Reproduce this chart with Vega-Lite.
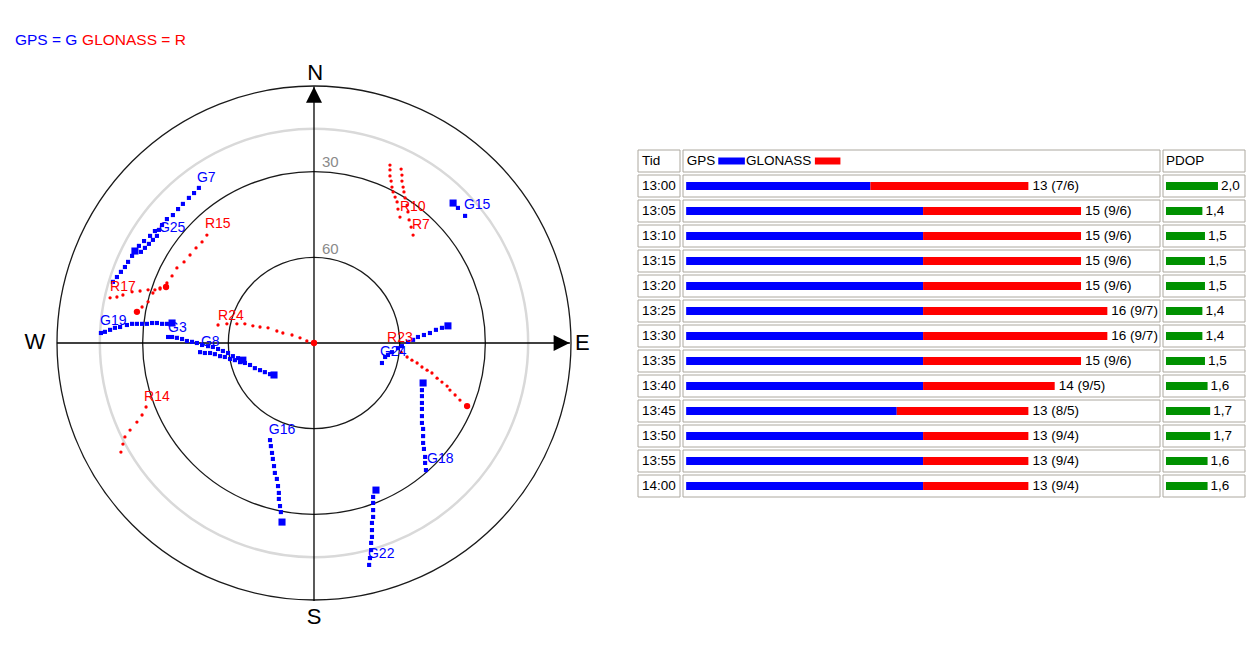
{
  "$schema": "https://vega.github.io/schema/vega-lite/v6.json",
  "background": "#ffffff",
  "padding": {"left": 8, "top": 25, "right": 0, "bottom": 0},
  "bounds": "flush",
  "spacing": 36,
  "config": {"view": {"stroke": null}, "font": "Liberation Sans", "text": {"font": "Liberation Sans"}, "legend": {"disable": true}},
  "datasets": {
    "rings": [{"zd": 90, "x": 0, "y": 0}, {"zd": 75, "x": 0, "y": 0}, {"zd": 60, "x": 0, "y": 0}, {"zd": 30, "x": 0, "y": 0}],
    "axes": [{"x": -90, "x2": 89.6, "y": 0, "y2": 0}, {"x": 0, "x2": 0, "y": 89.8, "y2": -90.3}],
    "compass": [{"t": "N", "x": 0.4, "y": 94.4}, {"t": "E", "x": 94.0, "y": 0}, {"t": "S", "x": 0, "y": -95.9}, {"t": "W", "x": -97.7, "y": 0.4}],
    "elev": [{"t": "30", "x": 2.8, "y": 63.3}, {"t": "60", "x": 2.8, "y": 32.8}],
    "notes": [{"t": "GPS = G", "sys": "GPS", "x": -104.7, "y": 106.1}, {"t": "GLONASS = R", "sys": "GLONASS", "x": -81.2, "y": 106.1}],
    "tracks": [
      {"sat": "G7", "sys": "GPS", "x": -40.3, "y": 54.3}, {"sat": "G7", "sys": "GPS", "x": -42.0, "y": 52.5}, {"sat": "G7", "sys": "GPS", "x": -43.8, "y": 50.8}, {"sat": "G7", "sys": "GPS", "x": -45.9, "y": 48.7}, {"sat": "G7", "sys": "GPS", "x": -47.6, "y": 46.9}, {"sat": "G7", "sys": "GPS", "x": -49.4, "y": 44.8}, {"sat": "G7", "sys": "GPS", "x": -51.5, "y": 43.4}, {"sat": "G7", "sys": "GPS", "x": -53.2, "y": 41.3}, {"sat": "G7", "sys": "GPS", "x": -55.7, "y": 39.2}, {"sat": "G7", "sys": "GPS", "x": -57.4, "y": 37.5}, {"sat": "G7", "sys": "GPS", "x": -59.5, "y": 35.7}, {"sat": "G7", "sys": "GPS", "x": -61.3, "y": 34.0}, {"sat": "G7", "sys": "GPS", "x": -63.7, "y": 30.5}, {"sat": "G7", "sys": "GPS", "x": -65.1, "y": 28.4}, {"sat": "G7", "sys": "GPS", "x": -66.2, "y": 26.6}, {"sat": "G7", "sys": "GPS", "x": -67.6, "y": 24.9}, {"sat": "G7", "sys": "GPS", "x": -69.0, "y": 23.1}, {"sat": "G7", "sys": "GPS", "x": -70.4, "y": 21.4},
      {"sat": "G25", "sys": "GPS", "x": -54.3, "y": 39.6}, {"sat": "G25", "sys": "GPS", "x": -55.0, "y": 37.5}, {"sat": "G25", "sys": "GPS", "x": -56.4, "y": 36.1}, {"sat": "G25", "sys": "GPS", "x": -57.8, "y": 34.7}, {"sat": "G25", "sys": "GPS", "x": -59.2, "y": 33.3}, {"sat": "G25", "sys": "GPS", "x": -60.6, "y": 31.9},
      {"sat": "G19", "sys": "GPS", "x": -74.6, "y": 3.5}, {"sat": "G19", "sys": "GPS", "x": -73.2, "y": 3.9}, {"sat": "G19", "sys": "GPS", "x": -71.4, "y": 4.6}, {"sat": "G19", "sys": "GPS", "x": -69.7, "y": 5.3}, {"sat": "G19", "sys": "GPS", "x": -67.9, "y": 5.6}, {"sat": "G19", "sys": "GPS", "x": -65.5, "y": 6.3}, {"sat": "G19", "sys": "GPS", "x": -63.7, "y": 6.7}, {"sat": "G19", "sys": "GPS", "x": -62.0, "y": 6.7}, {"sat": "G19", "sys": "GPS", "x": -60.2, "y": 6.7}, {"sat": "G19", "sys": "GPS", "x": -58.5, "y": 6.7}, {"sat": "G19", "sys": "GPS", "x": -56.7, "y": 7.0}, {"sat": "G19", "sys": "GPS", "x": -55.0, "y": 7.0}, {"sat": "G19", "sys": "GPS", "x": -53.2, "y": 6.7}, {"sat": "G19", "sys": "GPS", "x": -51.5, "y": 6.7},
      {"sat": "G3", "sys": "GPS", "x": -51.1, "y": 2.1}, {"sat": "G3", "sys": "GPS", "x": -49.7, "y": 2.1}, {"sat": "G3", "sys": "GPS", "x": -48.0, "y": 1.8}, {"sat": "G3", "sys": "GPS", "x": -46.2, "y": 1.4}, {"sat": "G3", "sys": "GPS", "x": -44.5, "y": 0.7}, {"sat": "G3", "sys": "GPS", "x": -42.7, "y": 0.4}, {"sat": "G3", "sys": "GPS", "x": -41.0, "y": 0.0}, {"sat": "G3", "sys": "GPS", "x": -39.2, "y": -0.7}, {"sat": "G3", "sys": "GPS", "x": -37.1, "y": -1.1}, {"sat": "G3", "sys": "GPS", "x": -35.4, "y": -1.4}, {"sat": "G3", "sys": "GPS", "x": -33.6, "y": -2.1}, {"sat": "G3", "sys": "GPS", "x": -31.9, "y": -2.8}, {"sat": "G3", "sys": "GPS", "x": -30.1, "y": -3.5}, {"sat": "G3", "sys": "GPS", "x": -28.4, "y": -4.6}, {"sat": "G3", "sys": "GPS", "x": -26.6, "y": -5.3},
      {"sat": "G8", "sys": "GPS", "x": -39.9, "y": -3.2}, {"sat": "G8", "sys": "GPS", "x": -38.2, "y": -3.5}, {"sat": "G8", "sys": "GPS", "x": -36.4, "y": -3.5}, {"sat": "G8", "sys": "GPS", "x": -34.7, "y": -3.9}, {"sat": "G8", "sys": "GPS", "x": -32.9, "y": -4.6}, {"sat": "G8", "sys": "GPS", "x": -31.2, "y": -4.9}, {"sat": "G8", "sys": "GPS", "x": -29.4, "y": -5.6}, {"sat": "G8", "sys": "GPS", "x": -27.7, "y": -6.0}, {"sat": "G8", "sys": "GPS", "x": -25.9, "y": -6.7}, {"sat": "G8", "sys": "GPS", "x": -24.2, "y": -7.0}, {"sat": "G8", "sys": "GPS", "x": -22.4, "y": -7.7}, {"sat": "G8", "sys": "GPS", "x": -20.7, "y": -8.8}, {"sat": "G8", "sys": "GPS", "x": -18.9, "y": -9.5}, {"sat": "G8", "sys": "GPS", "x": -17.2, "y": -10.2}, {"sat": "G8", "sys": "GPS", "x": -15.4, "y": -10.9},
      {"sat": "G16", "sys": "GPS", "x": -15.4, "y": -34.0}, {"sat": "G16", "sys": "GPS", "x": -15.1, "y": -36.1}, {"sat": "G16", "sys": "GPS", "x": -14.7, "y": -38.5}, {"sat": "G16", "sys": "GPS", "x": -14.4, "y": -40.6}, {"sat": "G16", "sys": "GPS", "x": -14.0, "y": -43.1}, {"sat": "G16", "sys": "GPS", "x": -13.7, "y": -45.5}, {"sat": "G16", "sys": "GPS", "x": -13.0, "y": -47.6}, {"sat": "G16", "sys": "GPS", "x": -12.6, "y": -50.1}, {"sat": "G16", "sys": "GPS", "x": -12.3, "y": -52.5}, {"sat": "G16", "sys": "GPS", "x": -12.3, "y": -54.6}, {"sat": "G16", "sys": "GPS", "x": -11.9, "y": -57.1}, {"sat": "G16", "sys": "GPS", "x": -11.6, "y": -59.2},
      {"sat": "G18", "sys": "GPS", "x": 37.8, "y": -16.5}, {"sat": "G18", "sys": "GPS", "x": 37.8, "y": -18.6}, {"sat": "G18", "sys": "GPS", "x": 37.8, "y": -21.0}, {"sat": "G18", "sys": "GPS", "x": 37.8, "y": -23.1}, {"sat": "G18", "sys": "GPS", "x": 37.8, "y": -25.6}, {"sat": "G18", "sys": "GPS", "x": 37.8, "y": -28.0}, {"sat": "G18", "sys": "GPS", "x": 38.2, "y": -30.1}, {"sat": "G18", "sys": "GPS", "x": 38.2, "y": -32.6}, {"sat": "G18", "sys": "GPS", "x": 38.2, "y": -35.0}, {"sat": "G18", "sys": "GPS", "x": 38.5, "y": -37.1}, {"sat": "G18", "sys": "GPS", "x": 38.9, "y": -39.9}, {"sat": "G18", "sys": "GPS", "x": 38.9, "y": -42.0}, {"sat": "G18", "sys": "GPS", "x": 39.2, "y": -44.5},
      {"sat": "G22", "sys": "GPS", "x": 20.7, "y": -53.9}, {"sat": "G22", "sys": "GPS", "x": 20.7, "y": -56.0}, {"sat": "G22", "sys": "GPS", "x": 20.7, "y": -58.5}, {"sat": "G22", "sys": "GPS", "x": 20.7, "y": -60.9}, {"sat": "G22", "sys": "GPS", "x": 20.3, "y": -63.0}, {"sat": "G22", "sys": "GPS", "x": 20.3, "y": -65.5}, {"sat": "G22", "sys": "GPS", "x": 20.3, "y": -67.9}, {"sat": "G22", "sys": "GPS", "x": 20.0, "y": -70.0}, {"sat": "G22", "sys": "GPS", "x": 20.0, "y": -72.5}, {"sat": "G22", "sys": "GPS", "x": 19.6, "y": -75.3}, {"sat": "G22", "sys": "GPS", "x": 19.3, "y": -77.7},
      {"sat": "G24", "sys": "GPS", "x": 44.8, "y": 5.3}, {"sat": "G24", "sys": "GPS", "x": 42.7, "y": 4.6}, {"sat": "G24", "sys": "GPS", "x": 40.6, "y": 3.5}, {"sat": "G24", "sys": "GPS", "x": 38.5, "y": 2.8}, {"sat": "G24", "sys": "GPS", "x": 36.4, "y": 2.1}, {"sat": "G24", "sys": "GPS", "x": 34.7, "y": 1.1}, {"sat": "G24", "sys": "GPS", "x": 32.9, "y": 0.4}, {"sat": "G24", "sys": "GPS", "x": 30.8, "y": -1.1}, {"sat": "G24", "sys": "GPS", "x": 29.4, "y": -1.8}, {"sat": "G24", "sys": "GPS", "x": 27.3, "y": -3.2}, {"sat": "G24", "sys": "GPS", "x": 25.9, "y": -4.2}, {"sat": "G24", "sys": "GPS", "x": 24.9, "y": -4.9}, {"sat": "G24", "sys": "GPS", "x": 23.8, "y": -7.0},
      {"sat": "G15", "sys": "GPS", "x": 50.4, "y": 47.3}, {"sat": "G15", "sys": "GPS", "x": 52.9, "y": 44.5},
      {"sat": "R10", "sys": "GLONASS", "x": 26.6, "y": 62.3}, {"sat": "R10", "sys": "GLONASS", "x": 26.6, "y": 60.6}, {"sat": "R10", "sys": "GLONASS", "x": 26.6, "y": 58.5}, {"sat": "R10", "sys": "GLONASS", "x": 27.0, "y": 56.7}, {"sat": "R10", "sys": "GLONASS", "x": 27.3, "y": 54.6}, {"sat": "R10", "sys": "GLONASS", "x": 27.7, "y": 52.9}, {"sat": "R10", "sys": "GLONASS", "x": 28.4, "y": 51.1}, {"sat": "R10", "sys": "GLONASS", "x": 29.1, "y": 49.4}, {"sat": "R10", "sys": "GLONASS", "x": 29.4, "y": 46.9}, {"sat": "R10", "sys": "GLONASS", "x": 30.1, "y": 44.1},
      {"sat": "R7", "sys": "GLONASS", "x": 30.5, "y": 60.9}, {"sat": "R7", "sys": "GLONASS", "x": 30.8, "y": 58.8}, {"sat": "R7", "sys": "GLONASS", "x": 30.8, "y": 56.7}, {"sat": "R7", "sys": "GLONASS", "x": 31.2, "y": 54.6}, {"sat": "R7", "sys": "GLONASS", "x": 31.5, "y": 52.9}, {"sat": "R7", "sys": "GLONASS", "x": 31.9, "y": 50.8}, {"sat": "R7", "sys": "GLONASS", "x": 32.6, "y": 48.3}, {"sat": "R7", "sys": "GLONASS", "x": 32.9, "y": 45.9}, {"sat": "R7", "sys": "GLONASS", "x": 33.3, "y": 43.1}, {"sat": "R7", "sys": "GLONASS", "x": 34.0, "y": 40.6}, {"sat": "R7", "sys": "GLONASS", "x": 34.7, "y": 37.8},
      {"sat": "R15", "sys": "GLONASS", "x": -37.5, "y": 37.8}, {"sat": "R15", "sys": "GLONASS", "x": -39.2, "y": 35.4}, {"sat": "R15", "sys": "GLONASS", "x": -41.3, "y": 33.3}, {"sat": "R15", "sys": "GLONASS", "x": -43.4, "y": 30.8}, {"sat": "R15", "sys": "GLONASS", "x": -45.5, "y": 28.4}, {"sat": "R15", "sys": "GLONASS", "x": -48.0, "y": 26.3}, {"sat": "R15", "sys": "GLONASS", "x": -49.7, "y": 23.5}, {"sat": "R15", "sys": "GLONASS", "x": -51.5, "y": 21.0}, {"sat": "R15", "sys": "GLONASS", "x": -53.9, "y": 18.9}, {"sat": "R15", "sys": "GLONASS", "x": -56.4, "y": 17.5}, {"sat": "R15", "sys": "GLONASS", "x": -58.1, "y": 14.4}, {"sat": "R15", "sys": "GLONASS", "x": -60.2, "y": 12.6},
      {"sat": "R17", "sys": "GLONASS", "x": -71.4, "y": 15.8}, {"sat": "R17", "sys": "GLONASS", "x": -69.0, "y": 16.1}, {"sat": "R17", "sys": "GLONASS", "x": -66.9, "y": 16.8}, {"sat": "R17", "sys": "GLONASS", "x": -63.7, "y": 17.9}, {"sat": "R17", "sys": "GLONASS", "x": -60.9, "y": 18.2}, {"sat": "R17", "sys": "GLONASS", "x": -58.1, "y": 18.6}, {"sat": "R17", "sys": "GLONASS", "x": -55.7, "y": 18.6}, {"sat": "R17", "sys": "GLONASS", "x": -53.9, "y": 19.3},
      {"sat": "R24", "sys": "GLONASS", "x": -33.6, "y": 6.3}, {"sat": "R24", "sys": "GLONASS", "x": -30.5, "y": 6.7}, {"sat": "R24", "sys": "GLONASS", "x": -27.0, "y": 6.7}, {"sat": "R24", "sys": "GLONASS", "x": -24.2, "y": 6.7}, {"sat": "R24", "sys": "GLONASS", "x": -21.4, "y": 6.0}, {"sat": "R24", "sys": "GLONASS", "x": -18.9, "y": 5.6}, {"sat": "R24", "sys": "GLONASS", "x": -16.1, "y": 5.3}, {"sat": "R24", "sys": "GLONASS", "x": -13.0, "y": 4.2}, {"sat": "R24", "sys": "GLONASS", "x": -10.9, "y": 3.5}, {"sat": "R24", "sys": "GLONASS", "x": -7.7, "y": 2.8}, {"sat": "R24", "sys": "GLONASS", "x": -4.9, "y": 1.8}, {"sat": "R24", "sys": "GLONASS", "x": -2.5, "y": 0.7},
      {"sat": "R23", "sys": "GLONASS", "x": 30.5, "y": -3.2}, {"sat": "R23", "sys": "GLONASS", "x": 32.6, "y": -4.9}, {"sat": "R23", "sys": "GLONASS", "x": 34.3, "y": -6.0}, {"sat": "R23", "sys": "GLONASS", "x": 36.1, "y": -7.0}, {"sat": "R23", "sys": "GLONASS", "x": 37.8, "y": -8.4}, {"sat": "R23", "sys": "GLONASS", "x": 39.6, "y": -9.5}, {"sat": "R23", "sys": "GLONASS", "x": 41.3, "y": -10.5}, {"sat": "R23", "sys": "GLONASS", "x": 43.1, "y": -12.3}, {"sat": "R23", "sys": "GLONASS", "x": 44.8, "y": -13.7}, {"sat": "R23", "sys": "GLONASS", "x": 46.6, "y": -15.1}, {"sat": "R23", "sys": "GLONASS", "x": 47.6, "y": -16.5}, {"sat": "R23", "sys": "GLONASS", "x": 49.4, "y": -18.2}, {"sat": "R23", "sys": "GLONASS", "x": 51.1, "y": -20.0},
      {"sat": "R14", "sys": "GLONASS", "x": -58.8, "y": -22.4}, {"sat": "R14", "sys": "GLONASS", "x": -60.2, "y": -25.2}, {"sat": "R14", "sys": "GLONASS", "x": -62.0, "y": -27.7}, {"sat": "R14", "sys": "GLONASS", "x": -64.4, "y": -30.5}, {"sat": "R14", "sys": "GLONASS", "x": -66.2, "y": -32.9}, {"sat": "R14", "sys": "GLONASS", "x": -66.9, "y": -35.4}, {"sat": "R14", "sys": "GLONASS", "x": -67.6, "y": -38.2}
    ],
    "current": [
      {"sat": "G25", "sys": "GPS", "x": -62.7, "y": 32.2}, {"sat": "G19", "sys": "GPS", "x": -49.7, "y": 7.0}, {"sat": "G3", "sys": "GPS", "x": -24.9, "y": -6.0}, {"sat": "G8", "sys": "GPS", "x": -14.0, "y": -11.2}, {"sat": "G16", "sys": "GPS", "x": -11.2, "y": -62.7}, {"sat": "G18", "sys": "GPS", "x": 38.2, "y": -14.0}, {"sat": "G22", "sys": "GPS", "x": 21.7, "y": -51.5}, {"sat": "G24", "sys": "GPS", "x": 46.9, "y": 6.0}, {"sat": "G15", "sys": "GPS", "x": 48.7, "y": 49.0},
      {"sat": "R15", "sys": "GLONASS", "x": -62.0, "y": 10.9}, {"sat": "R17", "sys": "GLONASS", "x": -51.8, "y": 19.6}, {"sat": "R24", "sys": "GLONASS", "x": 0.0, "y": 0.0}, {"sat": "R23", "sys": "GLONASS", "x": 53.6, "y": -22.1}
    ],
    "labels": [
      {"sat": "G7", "sys": "GPS", "x": -41.0, "y": 57.8}, {"sat": "G25", "sys": "GPS", "x": -54.3, "y": 40.3}, {"sat": "R15", "sys": "GLONASS", "x": -38.2, "y": 41.7}, {"sat": "R17", "sys": "GLONASS", "x": -71.4, "y": 19.6}, {"sat": "G19", "sys": "GPS", "x": -74.9, "y": 7.7}, {"sat": "G3", "sys": "GPS", "x": -51.1, "y": 5.3}, {"sat": "R24", "sys": "GLONASS", "x": -33.6, "y": 9.5}, {"sat": "G8", "sys": "GPS", "x": -39.6, "y": 0.4}, {"sat": "R14", "sys": "GLONASS", "x": -59.5, "y": -18.9}, {"sat": "G16", "sys": "GPS", "x": -15.8, "y": -30.5}, {"sat": "G22", "sys": "GPS", "x": 18.9, "y": -73.9}, {"sat": "G18", "sys": "GPS", "x": 39.6, "y": -40.6}, {"sat": "R23", "sys": "GLONASS", "x": 25.6, "y": 1.8}, {"sat": "G24", "sys": "GPS", "x": 23.1, "y": -3.2}, {"sat": "R10", "sys": "GLONASS", "x": 30.1, "y": 47.6}, {"sat": "R7", "sys": "GLONASS", "x": 34.3, "y": 41.3}, {"sat": "G15", "sys": "GPS", "x": 52.5, "y": 48.3}
    ],
    "rows": [{"time": "Tid"}, {"time": "13:00"}, {"time": "13:05"}, {"time": "13:10"}, {"time": "13:15"}, {"time": "13:20"}, {"time": "13:25"}, {"time": "13:30"}, {"time": "13:35"}, {"time": "13:40"}, {"time": "13:45"}, {"time": "13:50"}, {"time": "13:55"}, {"time": "14:00"}],
    "table": [
      {"time": "13:00", "GPS": 7, "GLONASS": 6, "total": 13, "label": "13 (7/6)", "pdop": 2.0, "pdopLabel": "2,0"},
      {"time": "13:05", "GPS": 9, "GLONASS": 6, "total": 15, "label": "15 (9/6)", "pdop": 1.4, "pdopLabel": "1,4"},
      {"time": "13:10", "GPS": 9, "GLONASS": 6, "total": 15, "label": "15 (9/6)", "pdop": 1.5, "pdopLabel": "1,5"},
      {"time": "13:15", "GPS": 9, "GLONASS": 6, "total": 15, "label": "15 (9/6)", "pdop": 1.5, "pdopLabel": "1,5"},
      {"time": "13:20", "GPS": 9, "GLONASS": 6, "total": 15, "label": "15 (9/6)", "pdop": 1.5, "pdopLabel": "1,5"},
      {"time": "13:25", "GPS": 9, "GLONASS": 7, "total": 16, "label": "16 (9/7)", "pdop": 1.4, "pdopLabel": "1,4"},
      {"time": "13:30", "GPS": 9, "GLONASS": 7, "total": 16, "label": "16 (9/7)", "pdop": 1.4, "pdopLabel": "1,4"},
      {"time": "13:35", "GPS": 9, "GLONASS": 6, "total": 15, "label": "15 (9/6)", "pdop": 1.5, "pdopLabel": "1,5"},
      {"time": "13:40", "GPS": 9, "GLONASS": 5, "total": 14, "label": "14 (9/5)", "pdop": 1.6, "pdopLabel": "1,6"},
      {"time": "13:45", "GPS": 8, "GLONASS": 5, "total": 13, "label": "13 (8/5)", "pdop": 1.7, "pdopLabel": "1,7"},
      {"time": "13:50", "GPS": 9, "GLONASS": 4, "total": 13, "label": "13 (9/4)", "pdop": 1.7, "pdopLabel": "1,7"},
      {"time": "13:55", "GPS": 9, "GLONASS": 4, "total": 13, "label": "13 (9/4)", "pdop": 1.6, "pdopLabel": "1,6"},
      {"time": "14:00", "GPS": 9, "GLONASS": 4, "total": 13, "label": "13 (9/4)", "pdop": 1.6, "pdopLabel": "1,6"}
    ],
    "headText": [{"time": "Tid", "t": "GPS", "at": 0.02}, {"time": "Tid", "t": "GLONASS", "at": 2.27}],
    "headSwatch": [{"time": "Tid", "sys": "GPS", "from": 1.22, "to": 2.23}, {"time": "Tid", "sys": "GLONASS", "from": 4.89, "to": 5.86}],
    "pdopHead": [{"time": "Tid", "t": "PDOP", "at": 0}]
  },
  "hconcat": [
    {
      "width": 594,
      "height": 615,
      "encoding": {
        "x": {"field": "x", "type": "quantitative", "axis": null, "scale": {"domain": [-107.14, 100.84], "nice": false, "zero": false}},
        "y": {"field": "y", "type": "quantitative", "axis": null, "scale": {"domain": [-103.99, 111.34], "nice": false, "zero": false}}
      },
      "layer": [
        {
          "data": {"name": "rings"},
          "mark": {"type": "point", "filled": false, "opacity": 1, "fill": null},
          "encoding": {
            "size": {"field": "zd", "type": "quantitative", "legend": null, "scale": {"type": "pow", "exponent": 2, "domain": [0, 90], "range": [0, 264196]}},
            "stroke": {"condition": {"test": "datum.zd === 75", "value": "#d9d9d9"}, "value": "#1a1a1a"},
            "strokeWidth": {"condition": {"test": "datum.zd === 75", "value": 2.5}, "value": 1.3}
          }
        },
        {
          "data": {"name": "axes"},
          "mark": {"type": "rule", "color": "#000000", "strokeWidth": 1.3},
          "encoding": {"x2": {"field": "x2"}, "y2": {"field": "y2"}}
        },
        {
          "data": {"values": [{"x": 0, "y": 86.9}]},
          "mark": {"type": "point", "shape": "M-1,1L0,-1L1,1Z", "size": 256, "filled": true, "color": "#000000", "opacity": 1},
          "encoding": {}
        },
        {
          "data": {"values": [{"x": 86.7, "y": 0}]},
          "mark": {"type": "point", "shape": "M-1,-1L1,0L-1,1Z", "size": 256, "filled": true, "color": "#000000", "opacity": 1},
          "encoding": {}
        },
        {
          "data": {"name": "compass"},
          "mark": {"type": "text", "fontSize": 22, "align": "center", "baseline": "middle", "color": "#000000"},
          "encoding": {"text": {"field": "t"}}
        },
        {
          "data": {"name": "elev"},
          "mark": {"type": "text", "fontSize": 15, "align": "left", "baseline": "middle", "color": "#8a8a8a"},
          "encoding": {"text": {"field": "t"}}
        },
        {
          "data": {"name": "notes"},
          "mark": {"type": "text", "fontSize": 15.5, "align": "left", "baseline": "middle"},
          "encoding": {"text": {"field": "t"}, "color": {"field": "sys", "type": "nominal", "legend": null, "scale": {"domain": ["GPS", "GLONASS"], "range": ["#0000ff", "#ff0000"]}}}
        },
        {
          "data": {"name": "tracks"},
          "mark": {"type": "point", "filled": true, "opacity": 1, "strokeWidth": 0},
          "encoding": {
            "color": {"field": "sys", "type": "nominal", "legend": null},
            "shape": {"condition": {"test": "datum.sys === 'GPS'", "value": "square"}, "value": "circle"},
            "size": {"condition": {"test": "datum.sys === 'GPS'", "value": 17}, "value": 11}
          }
        },
        {
          "data": {"name": "current"},
          "mark": {"type": "point", "filled": true, "opacity": 1, "strokeWidth": 0},
          "encoding": {
            "color": {"field": "sys", "type": "nominal", "legend": null},
            "shape": {"condition": {"test": "datum.sys === 'GPS'", "value": "square"}, "value": "circle"},
            "size": {"condition": {"test": "datum.sys === 'GPS'", "value": 50}, "value": 40}
          }
        },
        {
          "data": {"name": "labels"},
          "mark": {"type": "text", "fontSize": 14, "align": "left", "baseline": "middle"},
          "encoding": {"text": {"field": "sat"}, "color": {"field": "sys", "type": "nominal", "legend": null}}
        }
      ]
    },
    {
      "spacing": 3,
      "bounds": "flush",
      "hconcat": [
        {
          "width": 42,
          "height": 615,
          "encoding": {
            "y": {"field": "time", "type": "nominal", "axis": null, "sort": null, "scale": {"domain": ["Tid", "13:00", "13:05", "13:10", "13:15", "13:20", "13:25", "13:30", "13:35", "13:40", "13:45", "13:50", "13:55", "14:00"], "range": [125, 472], "paddingInner": 0.12, "paddingOuter": 0}}
          },
          "layer": [
            {
              "data": {"name": "rows"},
              "mark": {"type": "rect", "fill": "#ffffff", "stroke": "#aca89f", "strokeWidth": 1},
              "encoding": {"x": {"value": 0}, "x2": {"value": "width"}}
            },
            {
              "data": {"name": "rows"},
              "mark": {"type": "text", "align": "left", "baseline": "middle", "dx": 4, "fontSize": 13.5, "color": "#000000"},
              "encoding": {"x": {"value": 0}, "text": {"field": "time"}}
            }
          ]
        },
        {
          "width": 477,
          "height": 615,
          "encoding": {
            "y": {"field": "time", "type": "nominal", "axis": null, "sort": null, "scale": {"domain": ["Tid", "13:00", "13:05", "13:10", "13:15", "13:20", "13:25", "13:30", "13:35", "13:40", "13:45", "13:50", "13:55", "14:00"], "range": [125, 472], "paddingInner": 0.12, "paddingOuter": 0}}
          },
          "layer": [
            {
              "data": {"name": "rows"},
              "mark": {"type": "rect", "fill": "#ffffff", "stroke": "#aca89f", "strokeWidth": 1},
              "encoding": {"x": {"value": 0}, "x2": {"value": "width"}}
            },
            {
              "data": {"name": "table"},
              "transform": [{"fold": ["GPS", "GLONASS"], "as": ["sys", "n"]}],
              "mark": {"type": "bar", "size": 8},
              "encoding": {
                "x": {"field": "n", "type": "quantitative", "stack": "zero", "axis": null, "scale": {"domain": [-0.12, 18], "nice": false}},
                "color": {"field": "sys", "type": "nominal", "legend": null},
                "order": {"field": "sys", "sort": "descending"}
              }
            },
            {
              "data": {"name": "table"},
              "mark": {"type": "text", "align": "left", "baseline": "middle", "dx": 4, "fontSize": 13.5, "color": "#000000"},
              "encoding": {"x": {"field": "total", "type": "quantitative", "axis": null, "scale": {"domain": [-0.12, 18], "nice": false}}, "text": {"field": "label"}}
            },
            {
              "data": {"name": "headText"},
              "mark": {"type": "text", "align": "left", "baseline": "middle", "fontSize": 13.5, "color": "#000000"},
              "encoding": {"x": {"field": "at", "type": "quantitative", "axis": null, "scale": {"domain": [-0.12, 18], "nice": false}}, "text": {"field": "t"}}
            },
            {
              "data": {"name": "headSwatch"},
              "mark": {"type": "bar", "size": 7},
              "encoding": {
                "x": {"field": "from", "type": "quantitative", "axis": null, "scale": {"domain": [-0.12, 18], "nice": false}},
                "x2": {"field": "to"},
                "color": {"field": "sys", "type": "nominal", "legend": null}
              }
            }
          ]
        },
        {
          "width": 82,
          "height": 615,
          "encoding": {
            "y": {"field": "time", "type": "nominal", "axis": null, "sort": null, "scale": {"domain": ["Tid", "13:00", "13:05", "13:10", "13:15", "13:20", "13:25", "13:30", "13:35", "13:40", "13:45", "13:50", "13:55", "14:00"], "range": [125, 472], "paddingInner": 0.12, "paddingOuter": 0}}
          },
          "layer": [
            {
              "data": {"name": "rows"},
              "mark": {"type": "rect", "fill": "#ffffff", "stroke": "#aca89f", "strokeWidth": 1},
              "encoding": {"x": {"value": 0}, "x2": {"value": "width"}}
            },
            {
              "data": {"name": "table"},
              "mark": {"type": "bar", "size": 8, "color": "#009100"},
              "encoding": {"x": {"field": "pdop", "type": "quantitative", "axis": null, "scale": {"domain": [-0.115, 3.04], "nice": false}}}
            },
            {
              "data": {"name": "table"},
              "mark": {"type": "text", "align": "left", "baseline": "middle", "dx": 3, "fontSize": 13.5, "color": "#000000"},
              "encoding": {"x": {"field": "pdop", "type": "quantitative", "axis": null, "scale": {"domain": [-0.115, 3.04], "nice": false}}, "text": {"field": "pdopLabel"}}
            },
            {
              "data": {"name": "pdopHead"},
              "mark": {"type": "text", "align": "left", "baseline": "middle", "fontSize": 13.5, "color": "#000000"},
              "encoding": {"x": {"field": "at", "type": "quantitative", "axis": null, "scale": {"domain": [-0.115, 3.04], "nice": false}}, "text": {"field": "t"}}
            }
          ]
        }
      ]
    }
  ]
}
